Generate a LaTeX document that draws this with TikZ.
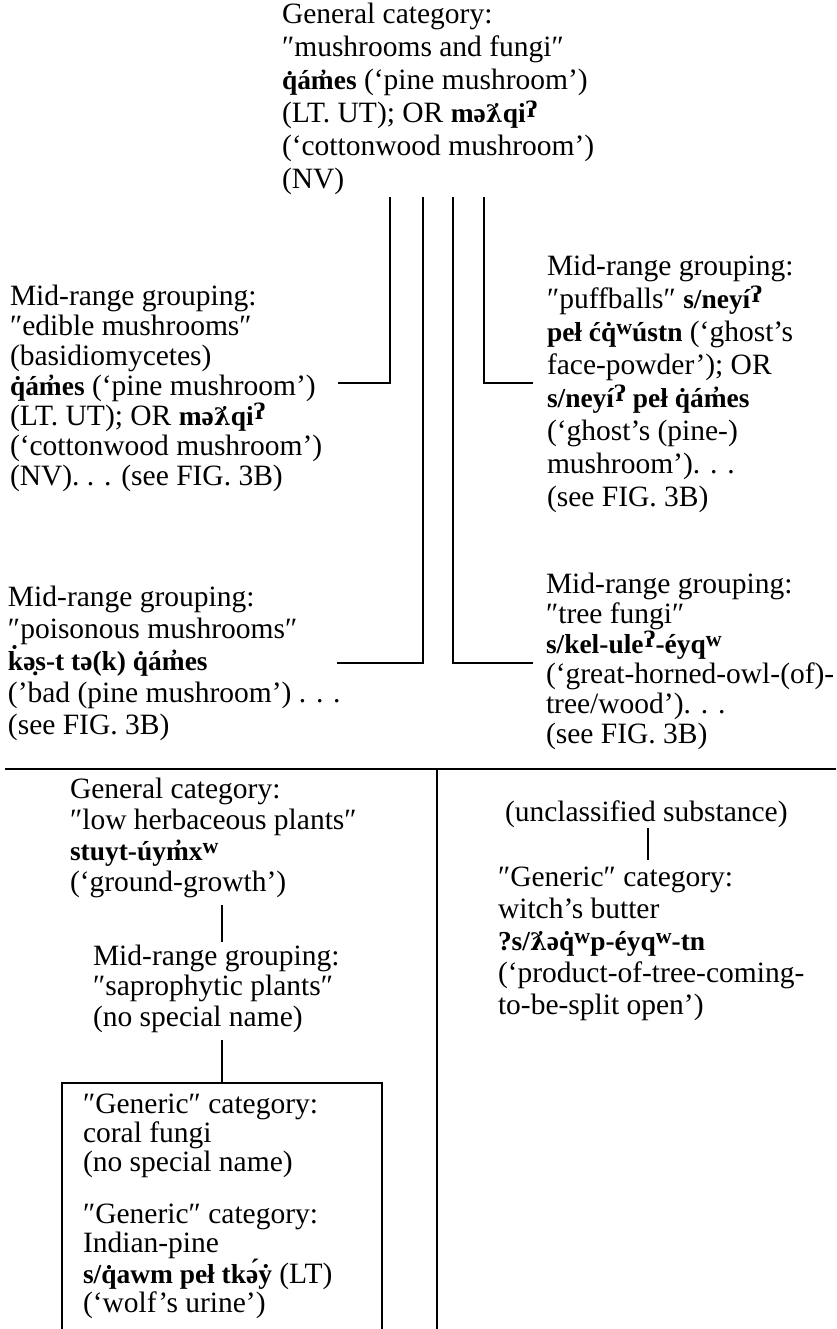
\documentclass[tikz,border=0pt]{standalone}
\usepackage{fontspec}
\usepackage{graphicx}
\setmainfont{Liberation Serif}
\newfontfamily\natf{Liberation Serif}[Scale=0.93]
\newfontfamily\djf{DejaVu Serif}[Scale=0.82]
\newcommand\nat[1]{{\natf\bfseries #1}}
\newcommand\lam{{\djf\bfseries ƛ̇}}
\newcommand\gl{\raisebox{0.4ex}{\djf\bfseries\scalebox{0.9}{ʔ}}}
\newcommand\sw{\raisebox{0.55ex}{\scalebox{0.8}{w}}}
\newcommand\fs{\rule{0pt}{25pt}}
\begin{document}
\begin{tikzpicture}[x=1pt,y=-1pt,line width=2.2pt,
  txt/.style={inner sep=0pt,outer sep=0pt,align=left,anchor=north west,
    font=\fontsize{29.5}{#1}\selectfont}]
\useasboundingbox (0,0) rectangle (836,1329);

% ---- upper part: mushrooms and fungi
\node[txt=33] (top) at (282,-1) {\fs General category:\\
″mushrooms and fungi″\\
\nat{q̇ám̓es} (‘pine mushroom’)\\
(LT. UT); OR \nat{mə\lam qi\gl}\\
(‘cottonwood mushroom’)\\
(NV)};

\node[txt=30] (edible) at (10,280) {\fs Mid-range grouping:\\
″edible mushrooms″\\
(basidiomycetes)\\
\nat{q̇ám̓es} (‘pine mushroom’)\\
(LT. UT); OR \nat{mə\lam qi\gl}\\
(‘cottonwood mushroom’)\\
(NV). . . (see FIG. 3B)};

\node[txt=33] (puff) at (547,250) {\fs Mid-range grouping:\\
″puffballs″ \nat{s/neyí\gl}\\
\nat{peł ćq̇\sw ústn} (‘ghost’s\\
face-powder’); OR\\
\nat{s/neyí\gl{} peł q̇ám̓es}\\
(‘ghost’s (pine-)\\
mushroom’). . .\\
(see FIG. 3B)};

\node[txt=32] (poison) at (8,581) {\fs Mid-range grouping:\\
″poisonous mushrooms″\\
\nat{k̇ə̣s-t tə(k) q̇ám̓es}\\
(’bad (pine mushroom’) . . .\\
(see FIG. 3B)};

\node[txt=30] (tree) at (546,568) {\fs Mid-range grouping:\\
″tree fungi″\\
\nat{s/kel-ule\gl-éyq\sw}\\
(‘great-horned-owl-(of)-\\
tree/wood’). . .\\
(see FIG. 3B)};

\coordinate (v1) at (390,197);
\coordinate (v2) at (423,197);
\coordinate (v3) at (453,197);
\coordinate (v4) at (484,197);
\coordinate (e1) at (338,383);
\coordinate (p1) at (533,383);
\coordinate (q1) at (337,663);
\coordinate (t1) at (533,663);
\draw (v1) |- (e1);
\draw (v4) |- (p1);
\draw (v2) |- (q1);
\draw (v3) |- (t1);

% ---- separators
\coordinate (s0) at (5,769);
\coordinate (s1) at (836,769);
\coordinate (d0) at (437,769);
\coordinate (d1) at (437,1329);
\draw (s0) -- (s1);
\draw (d0) -- (d1);

% ---- lower left: low herbaceous plants
\node[txt=31] (lowgen) at (70,773) {\fs General category:\\
″low herbaceous plants″\\
\nat{stuyt-úym̓x\sw}\\
(‘ground-growth’)};

\node[txt=30.5] (sapro) at (93,940) {\fs Mid-range grouping:\\
″saprophytic plants″\\
(no special name)};

\node[txt=29] (coral) at (83,1088) {\fs ″Generic″ category:\\
coral fungi\\
(no special name)};

\node[txt=29] (indian) at (83,1198) {\fs ″Generic″ category:\\
Indian-pine\\
\nat{s/q̇awm peł tkə́ẏ} (LT)\\
(‘wolf’s urine’)};

\coordinate (g1) at (222,905);
\coordinate (g2) at (222,942);
\coordinate (g3) at (222,1040);
\coordinate (g4) at (222,1083);
\draw (g1) -- (g2);
\draw (g3) -- (g4);

\coordinate (b0) at (62,1329);
\coordinate (b1) at (62,1083);
\coordinate (b2) at (382,1083);
\coordinate (b3) at (382,1329);
\draw (b0) -- (b1) -- (b2) -- (b3);

% ---- lower right: witch's butter
\node[txt=32] (uncl) at (505,796) {\fs (unclassified substance)};

\node[txt=32] (witch) at (498,861) {\fs ″Generic″ category:\\
witch’s butter\\
\nat{?s/\lam əq̇\sw p-éyq\sw-tn}\\
(‘product-of-tree-coming-\\
to-be-split open’)};

\coordinate (u1) at (648,828);
\coordinate (u2) at (648,860);
\draw (u1) -- (u2);
\end{tikzpicture}
\end{document}
